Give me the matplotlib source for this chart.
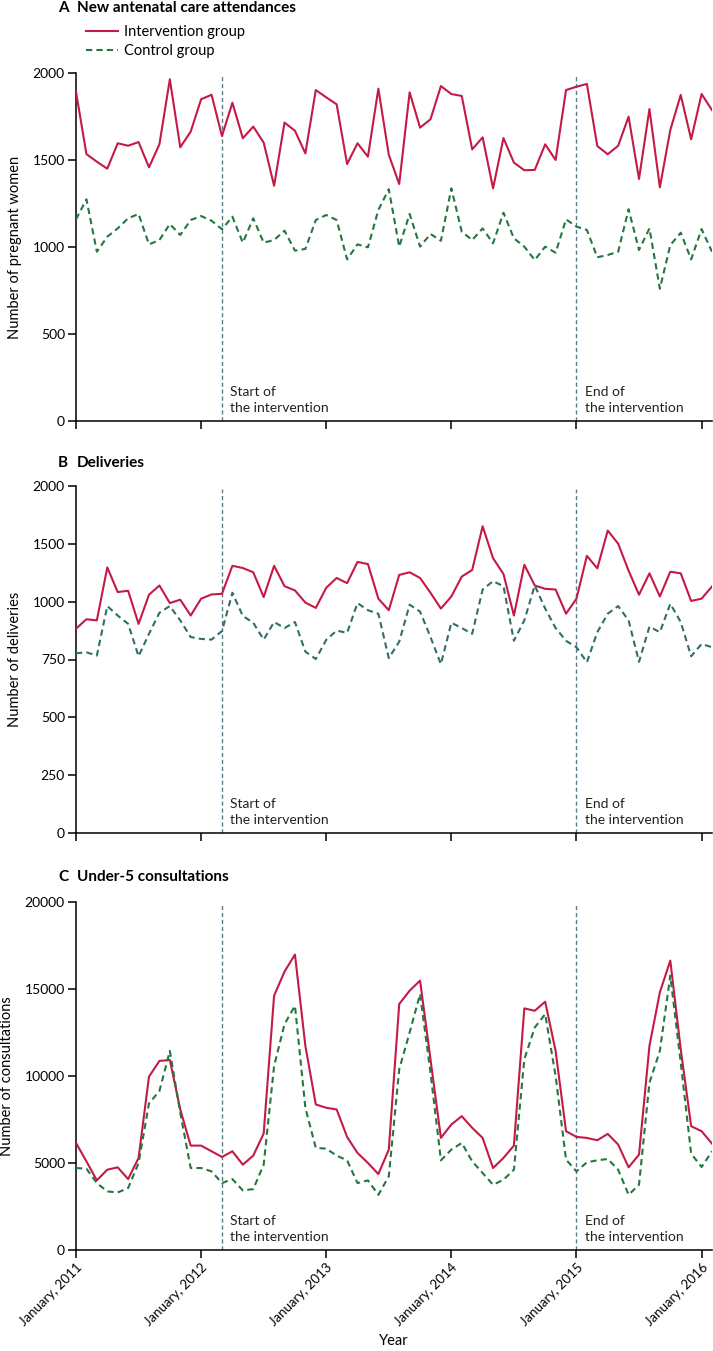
import numpy as np
import matplotlib
matplotlib.use("Agg")
import matplotlib.pyplot as plt
import matplotlib.transforms as mtransforms

plt.rcParams['font.family'] = ['Lato', 'DejaVu Sans']

# monthly index, January 2011 .. February 2016
months = np.arange(62)
year_ticks = [0, 12, 24, 36, 48, 60]
year_labels = ["January, 2011", "January, 2012", "January, 2013",
               "January, 2014", "January, 2015", "January, 2016"]
start_month = 14   # March 2012
end_month = 48     # January 2015

# A - new antenatal care attendances
anc_int = [1893, 1534, 1490, 1450, 1596, 1582, 1603, 1458, 1590, 1964, 1573, 1663,
           1849, 1875, 1638, 1829, 1625, 1692, 1600, 1352, 1715, 1668, 1538, 1902,
           1860, 1820, 1477, 1596, 1519, 1910, 1530, 1362, 1889, 1686, 1734, 1925,
           1879, 1868, 1561, 1630, 1337, 1626, 1485, 1441, 1443, 1590, 1500, 1902,
           1921, 1937, 1580, 1533, 1582, 1749, 1391, 1793, 1343, 1672, 1874, 1619,
           1879, 1787]
anc_ctl = [1159, 1274, 973, 1059, 1107, 1165, 1190, 1015, 1040, 1132, 1069, 1155,
           1178, 1151, 1102, 1174, 1025, 1165, 1025, 1040, 1094, 979, 989, 1155,
           1184, 1155, 929, 1015, 998, 1213, 1332, 1002, 1190, 1002, 1075, 1036,
           1337, 1088, 1040, 1107, 1021, 1197, 1050, 1002, 925, 1002, 967, 1159,
           1117, 1098, 941, 954, 973, 1217, 983, 1107, 760, 1011, 1082, 929,
           1103, 973]

# B - deliveries
del_int = [883, 924, 919, 1296, 1083, 1094, 904, 1060, 1140, 994, 1017, 940,
           1026, 1062, 1068, 1310, 1291, 1254, 1040, 1310, 1134, 1097, 996, 973,
           1120, 1205, 1160, 1344, 1325, 1026, 963, 1231, 1254, 1205, 1077, 970,
           1045, 1217, 1274, 1652, 1376, 1239, 940, 1319, 1140, 1111, 1105, 948,
           1026, 1396, 1288, 1615, 1501, 1268, 1060, 1245, 1045, 1259, 1245, 1006,
           1026, 1131]
del_ctl = [777, 781, 767, 981, 940, 904, 764, 861, 952, 981, 919, 847,
           839, 836, 873, 1077, 938, 909, 836, 912, 886, 912, 784, 752,
           835, 875, 865, 994, 963, 948, 756, 827, 987, 957, 847, 730,
           909, 886, 861, 1105, 1177, 1134, 831, 919, 1140, 970, 886, 831,
           803, 738, 868, 948, 981, 919, 740, 892, 868, 991, 912, 764,
           817, 803]
del_ticks = [0, 250, 500, 750, 1000, 1500, 2000]

# C - under-5 consultations
u5_int = [6154, 5096, 4000, 4615, 4750, 4077, 5288, 9962, 10865, 10923, 8077, 6000,
          6000, 5673, 5346, 5673, 4904, 5423, 6692, 14615, 16000, 16981, 11731, 8365,
          8173, 8077, 6500, 5577, 5000, 4365, 5769, 14135, 14904, 15481, 10962, 6442,
          7212, 7692, 7019, 6442, 4712, 5288, 6000, 13885, 13750, 14269, 11442, 6827,
          6500, 6442, 6308, 6673, 6058, 4750, 5481, 11731, 14808, 16635, 11538, 7115,
          6827, 6115]
u5_ctl = [4712, 4673, 3846, 3365, 3308, 3558, 5000, 8423, 9135, 11442, 7885, 4712,
          4712, 4519, 3846, 4077, 3423, 3500, 4904, 10577, 12981, 14038, 8173, 5865,
          5827, 5423, 5154, 3846, 4000, 3173, 4231, 10385, 12500, 14712, 10192, 5154,
          5769, 6154, 5096, 4423, 3750, 4038, 4615, 10962, 12788, 13558, 10000, 5192,
          4519, 5038, 5154, 5231, 4615, 3173, 3750, 9615, 11442, 15769, 10769, 5538,
          4769, 5673]

RED = "#C41A45"
GREEN = "#24773F"
TEAL = "#2F6F69"
VLINE = "#5C7C8A"


def fwd(v):
    v = np.asarray(v, float)
    return np.where(v <= 1000, v, 1000 + (v - 1000) / 2)


def inv(u):
    u = np.asarray(u, float)
    return np.where(u <= 1000, u, 1000 + (u - 1000) * 2)


fig = plt.figure(figsize=(7.13, 13.51), dpi=100)
W, H = 713, 1351


def make_ax(top, bottom):
    return fig.add_axes([76 / W, 1 - bottom / H, 636 / W, (bottom - top) / H])


axA = make_ax(73, 421)
axB = make_ax(486, 833)
axC = make_ax(902, 1250)

panels = [
    (axA, anc_int, anc_ctl, GREEN, "Number of pregnant women", "A", "New antenatal care attendances", 8),
    (axB, del_int, del_ctl, TEAL, "Number of deliveries", "B", "Deliveries", 463),
    (axC, u5_int, u5_ctl, GREEN, "Number of consultations", "C", "Under-5 consultations", 877),
]

for ax, yi, yc, cc, ylab, letter, title, ty in panels:
    ax.plot(months, yi, color=RED, lw=1.5, label="Intervention group", zorder=3)
    ax.plot(months, yc, color=cc, lw=1.5, ls=(0, (3, 2)), label="Control group", zorder=3)
    ax.axvline(start_month, ymax=0.99, color=VLINE, lw=1, ls=(0, (3, 2)), zorder=2)
    ax.axvline(end_month, ymax=0.99, color=VLINE, lw=1, ls=(0, (3, 2)), zorder=2)
    trans = mtransforms.blended_transform_factory(ax.transData, ax.transAxes)
    ax.text(start_month + 0.8, 0.02, "Start of\nthe intervention", transform=trans,
            fontsize=10, color="#222222", va="bottom", ha="left", linespacing=1.45)
    ax.text(end_month + 0.8, 0.02, "End of\nthe intervention", transform=trans,
            fontsize=10, color="#222222", va="bottom", ha="left", linespacing=1.45)
    ax.set_xlim(0, 61)
    ax.set_xticks(year_ticks)
    ax.set_ylabel(ylab, fontsize=10.5, labelpad=8)
    for s in ["top", "right"]:
        ax.spines[s].set_visible(False)
    for s in ["left", "bottom"]:
        ax.spines[s].set_linewidth(1.1)
    ax.tick_params(axis="both", direction="out", length=6, width=1.1, labelsize=10, pad=2)
    fig.text(58 / W, 1 - ty / H, letter, fontsize=11, fontweight="bold", va="center", ha="left")
    fig.text(77 / W, 1 - ty / H, title, fontsize=11, fontweight="bold", va="center", ha="left")

axA.set_ylim(0, 2000)
axA.set_yticks([0, 500, 1000, 1500, 2000])
axA.set_xticklabels([])

axB.set_yscale("function", functions=(fwd, inv))
axB.set_ylim(0, 2000)
axB.set_yticks(del_ticks)
axB.set_yticklabels([str(t) for t in del_ticks])
axB.minorticks_off()
axB.set_xticklabels([])

axC.set_ylim(0, 20000)
axC.set_yticks([0, 5000, 10000, 15000, 20000])
axC.set_xticklabels(year_labels, rotation=45, ha="right", rotation_mode="anchor", fontsize=9.5)
fig.text(394 / W, 1 - 1341 / H, "Year", fontsize=10.5, ha="center", va="center")

handles, labels = axA.get_legend_handles_labels()
fig.legend(handles, labels, loc="upper left", bbox_to_anchor=(86 / W, 1 - 25 / H),
           frameon=False, fontsize=10.5, handlelength=2.2, handletextpad=0.4,
           labelspacing=0.35, borderaxespad=0, borderpad=0)

fig.savefig("out.png", dpi=100)
